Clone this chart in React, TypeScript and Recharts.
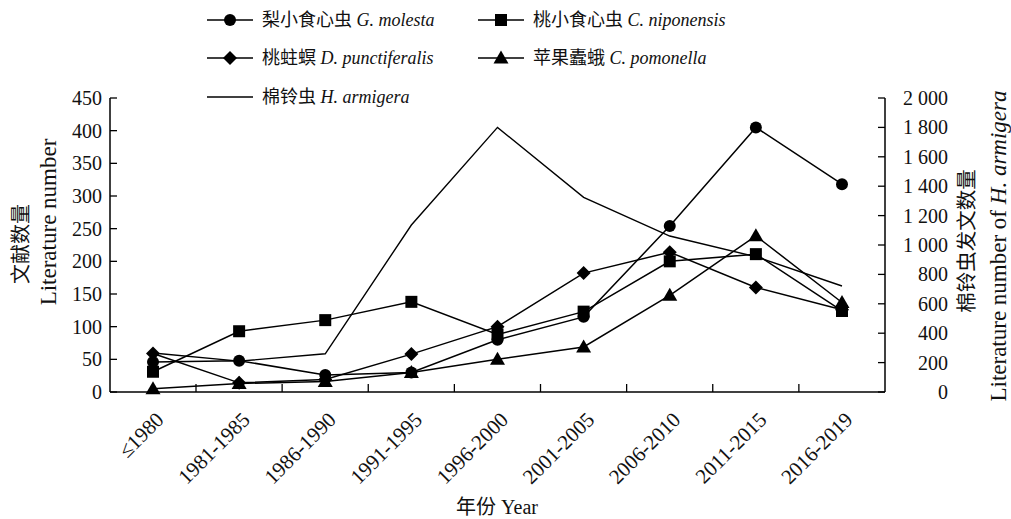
import React from 'react';
import { ComposedChart, Line, XAxis, YAxis } from 'recharts';

const categories = ['≤1980', '1981-1985', '1986-1990', '1991-1995', '1996-2000', '2001-2005', '2006-2010', '2011-2015', '2016-2019'];
const molesta = [46, 48, 26, 30, 80, 115, 254, 405, 318];
const niponensis = [31, 93, 110, 138, 88, 123, 200, 211, 124];
const punctiferalis = [59, 14, 19, 58, 100, 182, 214, 160, 126];
const pomonella = [5, 13, 16, 30, 50, 69, 148, 239, 137];
const armigera = [265, 210, 260, 1136, 1800, 1324, 1061, 920, 721];

const leftTicks = [0, 50, 100, 150, 200, 250, 300, 350, 400, 450];
const rightTicks = [0, 200, 400, 600, 800, 1000, 1200, 1400, 1600, 1800, 2000];

const data = categories.map((c, i) => ({
  year: c,
  molesta: molesta[i],
  niponensis: niponensis[i],
  punctiferalis: punctiferalis[i],
  pomonella: pomonella[i],
  armigera: armigera[i],
}));

const FONT = "'Liberation Serif', 'Noto Sans CJK SC', serif";
const CJK = "'Noto Sans CJK SC', 'Liberation Serif', serif";
const HALF = 43; // half of a category band

const Circle = ({ cx, cy }: any) => <circle cx={cx} cy={cy} r={6} fill="#000" />;
const Square = ({ cx, cy }: any) => <rect x={cx - 6} y={cy - 6} width={12} height={12} fill="#000" />;
const Diamond = ({ cx, cy }: any) => (
  <polygon points={`${cx},${cy - 7} ${cx + 7},${cy} ${cx},${cy + 7} ${cx - 7},${cy}`} fill="#000" />
);
const Triangle = ({ cx, cy }: any) => (
  <polygon points={`${cx},${cy - 7.5} ${cx + 7.5},${cy + 5.5} ${cx - 7.5},${cy + 5.5}`} fill="#000" />
);

const fmtThousands = (v: number) =>
  v >= 1000 ? `${Math.floor(v / 1000)} ${String(v % 1000).padStart(3, '0')}` : String(v);

const XTick = ({ x, y, payload, index }: any) => (
  <g>
    {index < categories.length - 1 && (
      <line x1={x + HALF} x2={x + HALF} y1={y} y2={y - 8} stroke="#000" strokeWidth={1.3} />
    )}
    <text
      x={x + 12}
      y={y + 29}
      textAnchor="end"
      transform={`rotate(-45 ${x + 12} ${y + 29})`}
      fontFamily={FONT}
      fontSize={21}
      fill="#111"
    >
      {payload.value}
    </text>
  </g>
);

const LeftTick = ({ x, y, payload }: any) => (
  <g>
    <line x1={x} x2={x + 7} y1={y} y2={y} stroke="#000" strokeWidth={1.3} />
    <text x={x - 8} y={y} dy="0.35em" textAnchor="end" fontFamily={FONT} fontSize={20} fill="#111">
      {payload.value}
    </text>
  </g>
);

const RightTick = ({ x, y, payload }: any) => (
  <g>
    <line x1={x} x2={x - 7} y1={y} y2={y} stroke="#000" strokeWidth={1.3} />
    <text x={x + 63} y={y} dy="0.35em" textAnchor="end" fontFamily={FONT} fontSize={20} fill="#111">
      {fmtThousands(payload.value)}
    </text>
  </g>
);

const VText = ({ x, y, size, family, children }: any) => (
  <text
    x={x}
    y={y}
    textAnchor="middle"
    dy="0.35em"
    transform={`rotate(-90 ${x} ${y})`}
    fontFamily={family}
    fontSize={size}
    fill="#111"
  >
    {children}
  </text>
);

const LeftTitle = () => (
  <g>
    <VText x={21} y={244} size={20} family={CJK}>文献数量</VText>
    <VText x={48} y={222} size={23} family={FONT}>Literature number</VText>
  </g>
);

const RightTitle = () => (
  <g>
    <VText x={967} y={241} size={20.5} family={CJK}>棉铃虫发文数量</VText>
    <VText x={998} y={246} size={23} family={FONT}>
      Literature number of <tspan fontStyle="italic">H. armigera</tspan>
    </VText>
  </g>
);

const BottomTitle = () => (
  <text x={497} y={514} textAnchor="middle" fontFamily={FONT} fontSize={20} fill="#111">
    <tspan fontFamily={CJK}>年份</tspan> Year
  </text>
);

const legendItems = [
  { cn: '梨小食心虫', latin: 'G. molesta', Icon: Circle, x: 207, y: 20 },
  { cn: '桃小食心虫', latin: 'C. niponensis', Icon: Square, x: 478, y: 20 },
  { cn: '桃蛀螟', latin: 'D. punctiferalis', Icon: Diamond, x: 207, y: 58 },
  { cn: '苹果蠹蛾', latin: 'C. pomonella', Icon: Triangle, x: 478, y: 58 },
  { cn: '棉铃虫', latin: 'H. armigera', Icon: null, x: 207, y: 97 },
];

const LegendOverlay = () => (
  <svg width={1011} height={120} style={{ position: 'absolute', left: 0, top: 0, pointerEvents: 'none' }}>
    {legendItems.map(({ cn, latin, Icon, x, y }) => (
      <g key={latin}>
        <line x1={x} x2={x + 46} y1={y} y2={y} stroke="#000" strokeWidth={1.5} />
        {Icon && <Icon cx={x + 23} cy={y} />}
        <text x={x + 55} y={y} dy="0.35em" fontSize={18} fontFamily={FONT} fill="#111">
          <tspan fontFamily={CJK}>{cn}</tspan> <tspan fontStyle="italic">{latin}</tspan>
        </text>
      </g>
    ))}
  </svg>
);

export default function App() {
  return (
    <div style={{ position: 'absolute', left: 0, top: 0, width: 1011, height: 519, background: '#fff' }}>
      <ComposedChart width={1011} height={519} data={data} margin={{ top: 98, right: 0, bottom: 0, left: 0 }}>
        <XAxis
          dataKey="year"
          type="category"
          interval={0}
          padding={{ left: HALF, right: HALF }}
          height={127}
          tick={<XTick />}
          tickLine={false}
          tickSize={0}
          tickMargin={0}
          axisLine={{ stroke: '#000', strokeWidth: 1.5 }}
          label={<BottomTitle />}
        />
        <YAxis
          yAxisId="left"
          width={110}
          domain={[0, 450]}
          ticks={leftTicks}
          interval={0}
          tick={<LeftTick />}
          tickLine={false}
          tickSize={0}
          tickMargin={0}
          axisLine={{ stroke: '#000', strokeWidth: 1.5 }}
          label={<LeftTitle />}
        />
        <YAxis
          yAxisId="right"
          orientation="right"
          width={126}
          domain={[0, 2000]}
          ticks={rightTicks}
          interval={0}
          tick={<RightTick />}
          tickLine={false}
          tickSize={0}
          tickMargin={0}
          axisLine={{ stroke: '#000', strokeWidth: 1.5 }}
          label={<RightTitle />}
        />
        <Line yAxisId="right" dataKey="armigera" stroke="#000" strokeWidth={1.4} dot={false} isAnimationActive={false} />
        <Line yAxisId="left" dataKey="molesta" stroke="#000" strokeWidth={1.5} dot={(p: any) => <Circle key={p.key} {...p} />} isAnimationActive={false} />
        <Line yAxisId="left" dataKey="niponensis" stroke="#000" strokeWidth={1.5} dot={(p: any) => <Square key={p.key} {...p} />} isAnimationActive={false} />
        <Line yAxisId="left" dataKey="punctiferalis" stroke="#000" strokeWidth={1.5} dot={(p: any) => <Diamond key={p.key} {...p} />} isAnimationActive={false} />
        <Line yAxisId="left" dataKey="pomonella" stroke="#000" strokeWidth={1.5} dot={(p: any) => <Triangle key={p.key} {...p} />} isAnimationActive={false} />
      </ComposedChart>
      <LegendOverlay />
    </div>
  );
}
